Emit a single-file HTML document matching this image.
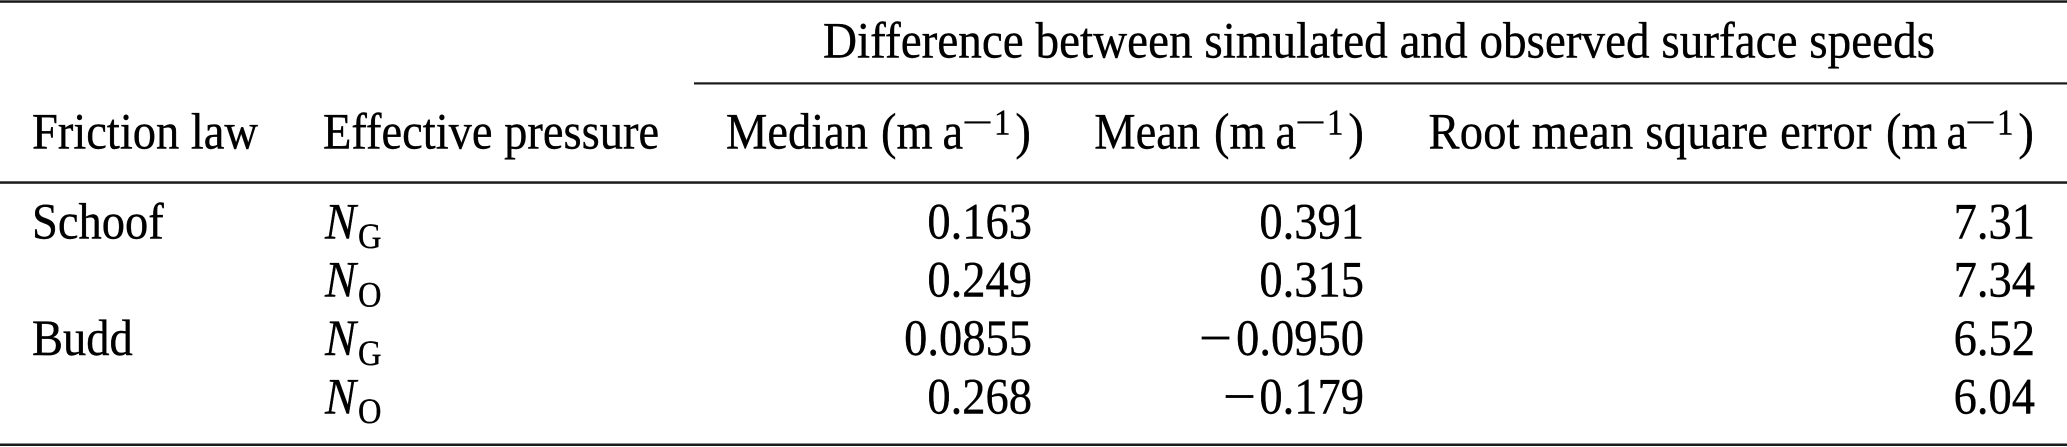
<!DOCTYPE html>
<html>
<head>
<meta charset="utf-8">
<style>
  html, body { margin: 0; padding: 0; background: #ffffff; }
  body { width: 2067px; height: 447px; overflow: hidden; }
  svg { display: block; }
  text { font-family: "Liberation Serif", "Times New Roman", serif; font-size: 46.5px; fill: #000; stroke: #000; stroke-width: 0.35px; }
  .it { font-style: italic; }
  .sub { font-size: 32.5px; }
  .sup { font-size: 33px; }
</style>
</head>
<body>
<svg width="2067" height="447" viewBox="0 0 2067 447" xmlns="http://www.w3.org/2000/svg" text-rendering="geometricPrecision">
  <!-- rules -->
  <rect x="0" y="0.3" width="2067" height="2.5" fill="#1a1a1a"/>
  <rect x="694" y="82.3" width="1373" height="2.2" fill="#1a1a1a"/>
  <rect x="0" y="181.3" width="2067" height="2.5" fill="#1a1a1a"/>
  <rect x="0" y="443.5" width="2067" height="2.5" fill="#1a1a1a"/>

  <!-- spanning header -->
  <g transform="translate(0,57.3) scale(1,1.1)">
    <text x="1379" y="0" text-anchor="middle" textLength="1112" lengthAdjust="spacingAndGlyphs">Difference between simulated and observed surface speeds</text>
  </g>

  <!-- header row -->
  <g transform="translate(0,148.3) scale(1,1.1)">
    <text x="32" y="0">Friction law</text>
    <text x="323" y="0">Effective pressure</text>

    <!-- Median (m a^-1) -->
    <text x="726" y="0">Median</text>
    <text x="881" y="0">(m</text>
    <text x="942.5" y="0">a</text>
    <text class="sup" x="962" y="-12.5" textLength="31" lengthAdjust="spacingAndGlyphs">−</text>
    <text class="sup" x="994" y="-12.5">1</text>
    <text x="1015.4" y="0">)</text>

    <!-- Mean (m a^-1) -->
    <text x="1094.3" y="0">Mean</text>
    <text x="1214" y="0">(m</text>
    <text x="1275.5" y="0">a</text>
    <text class="sup" x="1295" y="-12.5" textLength="31" lengthAdjust="spacingAndGlyphs">−</text>
    <text class="sup" x="1327" y="-12.5">1</text>
    <text x="1348.4" y="0">)</text>

    <!-- Root mean square error (m a^-1) -->
    <text x="1428.5" y="0" textLength="443" lengthAdjust="spacing">Root mean square error</text>
    <text x="1886" y="0">(m</text>
    <text x="1946.5" y="0">a</text>
    <text class="sup" x="1965" y="-12.5" textLength="31" lengthAdjust="spacingAndGlyphs">−</text>
    <text class="sup" x="1997" y="-12.5">1</text>
    <text x="2018.4" y="0">)</text>
  </g>

  <!-- row 1 -->
  <g transform="translate(0,238.3) scale(1,1.1)">
    <text x="32" y="0">Schoof</text>
    <text class="it" x="325" y="0">N</text>
    <text class="sub" x="358" y="9">G</text>
    <text x="1032" y="0" text-anchor="end">0.163</text>
    <text x="1364" y="0" text-anchor="end">0.391</text>
    <text x="2035" y="0" text-anchor="end">7.31</text>
  </g>

  <!-- row 2 -->
  <g transform="translate(0,296.6) scale(1,1.1)">
    <text class="it" x="325" y="0">N</text>
    <text class="sub" x="358" y="9">O</text>
    <text x="1032" y="0" text-anchor="end">0.249</text>
    <text x="1364" y="0" text-anchor="end">0.315</text>
    <text x="2035" y="0" text-anchor="end">7.34</text>
  </g>

  <!-- row 3 -->
  <g transform="translate(0,355) scale(1,1.1)">
    <text x="32" y="0">Budd</text>
    <text class="it" x="325" y="0">N</text>
    <text class="sub" x="358" y="9">G</text>
    <text x="1032" y="0" text-anchor="end">0.0855</text>
    <text x="1364" y="0" text-anchor="end">0.0950</text>
    <text x="1199" y="0" textLength="33" lengthAdjust="spacingAndGlyphs">−</text>
    <text x="2035" y="0" text-anchor="end">6.52</text>
  </g>

  <!-- row 4 -->
  <g transform="translate(0,413.3) scale(1,1.1)">
    <text class="it" x="325" y="0">N</text>
    <text class="sub" x="358" y="9">O</text>
    <text x="1032" y="0" text-anchor="end">0.268</text>
    <text x="1364" y="0" text-anchor="end">0.179</text>
    <text x="1223" y="0" textLength="33" lengthAdjust="spacingAndGlyphs">−</text>
    <text x="2035" y="0" text-anchor="end">6.04</text>
  </g>
</svg>
</body>
</html>
